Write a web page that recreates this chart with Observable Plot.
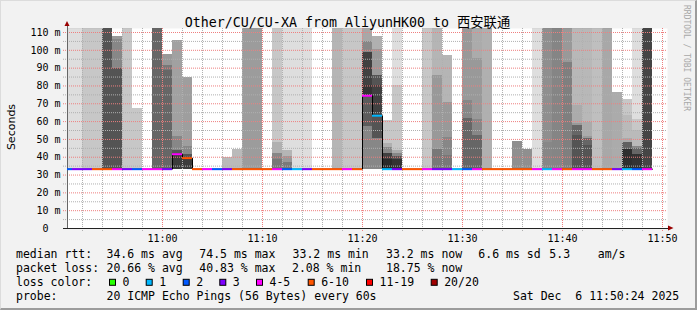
<!DOCTYPE html>
<html><head><meta charset="utf-8">
<script src="https://cdn.jsdelivr.net/npm/d3@7"></script>
<script src="https://cdn.jsdelivr.net/npm/@observablehq/plot@0.6"></script>
<style>
html,body{margin:0;padding:0;background:#f2f2f2;}
#chart{position:relative;width:697px;height:310px;background:#f2f2f2;overflow:hidden;}
#chart svg{display:block;position:absolute;left:0;top:0;}
#edge{position:absolute;left:0;top:0;width:697px;height:310px;box-sizing:border-box;border-top:1px solid #dcdcdc;border-left:1px solid #dcdcdc;border-right:2px solid #9c9c9c;border-bottom:2px solid #9c9c9c;pointer-events:none;z-index:2;}
</style></head><body>
<div id="chart"><div id="edge"></div></div>
<script>
// ---- data ----
const minutes = ["10:50","10:51","10:52","10:53","10:54","10:55","10:56","10:57","10:58","10:59",
  "11:00","11:01","11:02","11:03","11:04","11:05","11:06","11:07","11:08","11:09",
  "11:10","11:11","11:12","11:13","11:14","11:15","11:16","11:17","11:18","11:19",
  "11:20","11:21","11:22","11:23","11:24","11:25","11:26","11:27","11:28","11:29",
  "11:30","11:31","11:32","11:33","11:34","11:35","11:36","11:37","11:38","11:39",
  "11:40","11:41","11:42","11:43","11:44","11:45","11:46","11:47","11:48"];
const medians = [33.3,33.3,33.3,33.3,33.3,33.3,33.3,33.3,33.3,33.3,
  33.3,41.7,39.5,33.3,33.3,33.3,33.3,33.3,33.3,33.3,
  33.3,33.3,33.3,33.3,33.3,33.3,33.3,33.3,33.3,33.3,
  74.5,63.3,33.3,33.3,33.3,33.3,33.3,33.3,33.3,33.3,
  33.3,33.3,33.3,33.3,33.3,33.3,33.3,33.3,33.3,33.3,
  33.3,33.3,33.3,33.3,33.3,33.3,33.3,33.3,33.3];
const lossPerColumn = ["2","3","3","6-10","6-10","4-5","3","2","4-5","4-5",
  "3","4-5","6-10","6-10","4-5","2","3","6-10","6-10","6-10",
  "6-10","4-5","2","1","3","6-10","6-10","6-10","4-5","6-10",
  "4-5","1","1","3","6-10","6-10","4-5","3","3","1",
  "2","4-5","6-10","6-10","6-10","6-10","6-10","4-5","1","4-5",
  "6-10","4-5","4-5","6-10","6-10","3","1","2","4-5"];
// smoke bands per column: [low ms, high ms, darkness %]
const smoke = [
  [[33.2,130,13]], [[33.2,130,13]], [[33.2,130,22]], [[33.2,130,22]], [[33.2,130,67]],
  [[33.2,90,67],[90,106,47],[106,107.8,40]],
  [[33.2,130,22]], [[33.2,67.5,22]], [], [[33.2,130,60]],
  [[33.2,88.7,60],[88.7,91.5,53],[91.5,97.5,40]],
  [[33.2,41.7,77],[41.7,43.5,67],[43.5,51.6,47],[51.6,105.5,37]],
  [[33.2,39.5,77],[39.5,41.4,67],[41.4,46,47],[46,85,38]],
  [], [], [], [[33.2,40,27]], [[33.2,44.3,27]], [[33.2,130,39]], [[33.2,130,39]],
  [],
  [[33.2,39,53],[39,42,47],[42,48,31],[48,130,22]],
  [[33.2,37,52],[37,40.5,40],[40.5,43.8,29],[43.8,130,13]],
  [[33.2,130,13]], [[33.2,130,13]], [], [], [[33.2,130,29]], [[33.2,130,22]], [[33.2,130,22]],
  [[33.2,57,47],[57,74.5,64],[74.5,80,80],[80,99,75],[99,105,47],[105,130,34]],
  [[33.2,50.7,47],[50.7,63.3,67],[63.3,80,75],[80,85.9,67],[85.9,100.4,40],[100.4,107.7,31]],
  [[33.2,39,84],[39,42.3,75],[42.3,45.6,47],[45.6,47.5,31],[47.5,60.6,22]],
  [[33.2,39,80],[39,40.5,67],[40.5,42,47],[42,43.5,33],[43.5,80,22],[80,130,13]],
  [], [], [[33.2,130,22]],
  [[33.2,44.3,53],[44.3,85.9,40],[85.9,130,29]],
  [[33.2,41,53],[41,51.2,47],[51.2,70.5,40],[70.5,97,29]],
  [],
  [[33.2,62,60],[62,71.8,47],[71.8,130,40]],
  [[33.2,52.3,60],[52.3,61.2,47],[61.2,95.2,40],[95.2,130,33]],
  [[33.2,130,31]], [], [], [[33.2,48.8,44]], [[33.2,44.3,44]], [[33.2,130,13]],
  [[33.2,48.4,47],[48.4,130,44]],
  [[33.2,130,48]],
  [[33.2,93.4,50],[93.4,130,40]],
  [[33.2,52.2,67],[52.2,57.8,60],[57.8,58.8,40],[58.8,69,33],[69,130,28]],
  [[33.2,46.6,67],[46.6,50.5,60],[50.5,51.5,40],[51.5,59.3,33],[59.3,130,28]],
  [[33.2,130,25]], [[33.2,130,34]], [[33.2,76.5,33]],
  [[33.2,44.3,82],[44.3,48.5,62],[48.5,50.3,33],[50.3,63.4,27],[63.4,72.4,22]],
  [[33.2,41.3,80],[41.3,45,60],[45,46,47],[46,55,27],[55,61.2,22],[61.2,130,13]],
  [[33.2,130,73]]
];
const lossBins = ["0","1","2","3","4-5","6-10","11-19","20/20"];
const lossColors = ["#26ff00","#00b8ff","#0059ff","#7e00ff","#ff00ff","#ff5500","#ff0000","#a10000"];
const yTicks = [0,10,20,30,40,50,60,70,80,90,100,110];
const yMinor = [5,15,25,35,45,55,65,75,85,95,105];
const timeTicks = ["11:00","11:10","11:20","11:30","11:40","11:50"];
const viewStart = "10:50:30", viewEnd = "11:50:30";
const yMax = 112.25;
const titleText = "Other/CU/CU-XA from AliyunHK00 to 西安联通";
const rttStats = ["34.6 ms avg","74.5 ms max","33.2 ms min","33.2 ms now","6.6 ms sd","5.3    am/s"];
const lossStats = ["20.66 % avg","40.83 % max","2.08 % min","18.75 % now"];
const probeText = "20 ICMP Echo Pings (56 Bytes) every 60s";
const dateText = "Sat Dec  6 11:50:24 2025";

// ---- build ----
const parse = d3.utcParse("%Y-%m-%d %H:%M:%S");
const at = s => parse("2025-12-06 " + (s.length === 5 ? s + ":00" : s));
const columns = minutes.map((m, i) => ({t0: at(m), t1: d3.utcMinute.offset(at(m), 1), median: medians[i], loss: lossPerColumn[i]}));
const bands = smoke.flatMap((bs, i) => bs.map(([lo, hi, dark]) => ({t0: columns[i].t0, t1: columns[i].t1, lo, hi, dark})));
const steps = columns.flatMap(c => [{t: c.t0, v: c.median}, {t: c.t1, v: c.median}]);
const xDomain = [at(viewStart), at(viewEnd)];
const majorX = timeTicks.map(at);
const minorX = d3.utcMinute.every(2).range(xDomain[0], xDomain[1]).filter(d => d.getUTCMinutes() % 10 !== 0);
const majorY = yTicks.filter(v => v > 0);

const plot = Plot.plot({
  width: 697, height: 310,
  marginLeft: 67, marginRight: 30, marginTop: 28, marginBottom: 82,
  style: {background: "transparent", fontFamily: "DejaVu Sans Mono", fontSize: "10px", color: "#000", overflow: "visible"},
  x: {type: "utc", domain: xDomain, ticks: majorX, tickFormat: d3.utcFormat("%H:%M"), tickSize: 0, tickPadding: 6, label: null},
  y: {domain: [0, yMax], ticks: yTicks, tickFormat: d => d === 0 ? "0\u00a0\u00a0" : `${d} m`, tickSize: 0, tickPadding: 7, label: null},
  color: {type: "ordinal", domain: lossBins, range: lossColors},
  opacity: {type: "linear", domain: [0, 100], range: [0, 1]},
  marks: [
    Plot.frame({fill: "white", stroke: null}),
    Plot.rect(bands, {x1: "t0", x2: "t1", y1: "lo", y2: "hi", fill: "black", fillOpacity: "dark", clip: true, shapeRendering: "crispEdges"}),
    Plot.ruleX(minorX, {stroke: "#b0b0b0", strokeDasharray: "1,1", insetBottom: -4}),
    Plot.ruleY(yMinor, {stroke: "#b0b0b0", strokeDasharray: "1,1", insetLeft: -4}),
    Plot.ruleX(majorX, {stroke: "#ee7f7f", strokeDasharray: "1,1", insetBottom: -4}),
    Plot.ruleY(majorY, {stroke: "#ee7f7f", strokeDasharray: "1,1", insetLeft: -4}),
    Plot.ruleY([0], {stroke: "#222", insetLeft: -4, insetRight: -1}),
    Plot.ruleX([xDomain[0]], {stroke: "#666", insetTop: -2}),
    Plot.line(steps, {x: "t", y: "v", stroke: "black", strokeWidth: 1, clip: true}),
    Plot.ruleY(columns, {x1: "t0", x2: "t1", y: "median", stroke: "loss", strokeWidth: 2, clip: true})
  ]
});
document.getElementById("chart").appendChild(plot);

// ---- decorations & text ----
const svg = d3.select(plot);
const sx = plot.scale("x"), sy = plot.scale("y");
const x0 = sx.apply(xDomain[0]), x1 = sx.apply(xDomain[1]);
const yTopPx = sy.apply(yMax), yBase = sy.apply(0);
svg.append("path").attr("d", `M${x0-2.5},${yTopPx-2}L${x0+2.5},${yTopPx-2}L${x0},${yTopPx-7}Z`).attr("fill", "#990000");
svg.append("path").attr("d", `M${x1+1},${yBase-2.5}L${x1+1},${yBase+2.5}L${x1+6.5},${yBase}Z`).attr("fill", "#990000");

const nb = s => s.replace(/ /g, "\u00a0");
const g = svg.append("g").attr("font-family", "DejaVu Sans Mono").attr("fill", "#000").attr("text-anchor", "start");
g.append("text").attr("x", 347.5).attr("y", 27).attr("text-anchor", "middle")
  .attr("font-family", "'DejaVu Sans Mono','Noto Sans CJK SC'").attr("font-size", "13.3px").text(titleText);
g.append("text").attr("transform", "translate(15,127) rotate(-90)").attr("text-anchor", "middle")
  .attr("font-family", "DejaVu Sans").attr("font-size", "11px").text("Seconds");
g.append("text").attr("transform", "translate(684,5) rotate(90)").attr("font-size", "8px").attr("fill", "#a8a8a8")
  .text(nb("RRDTOOL / TOBI OETIKER"));

const fs = "11.5px";
const base = [258.3, 272.3, 286.3, 300.3];
const put = (x, y, s) => g.append("text").attr("x", x).attr("y", y).attr("font-size", fs).text(nb(s));
put(16, base[0], "median rtt:");
[106.5, 199.3, 292.6, 386, 478.3, 549.3].forEach((x, i) => put(x, base[0], rttStats[i]));
put(16, base[1], "packet loss:");
[106.5, 199.3, 292, 386].forEach((x, i) => put(x, base[1], lossStats[i]));
put(16, base[2], "loss color:");
const boxX = [109, 145.7, 182.7, 219.3, 256, 307.7, 366, 430.7];
lossBins.forEach((b, i) => {
  g.append("rect").attr("x", boxX[i] + 0.5).attr("y", base[2] - 7).attr("width", 6).attr("height", 6)
    .attr("fill", lossColors[i]).attr("stroke", "#000");
  put(boxX[i] + 13.5, base[2], b);
});
put(16, base[3], "probe:");
put(106.5, base[3], probeText);
put(513, base[3], dateText);
</script></body></html>
